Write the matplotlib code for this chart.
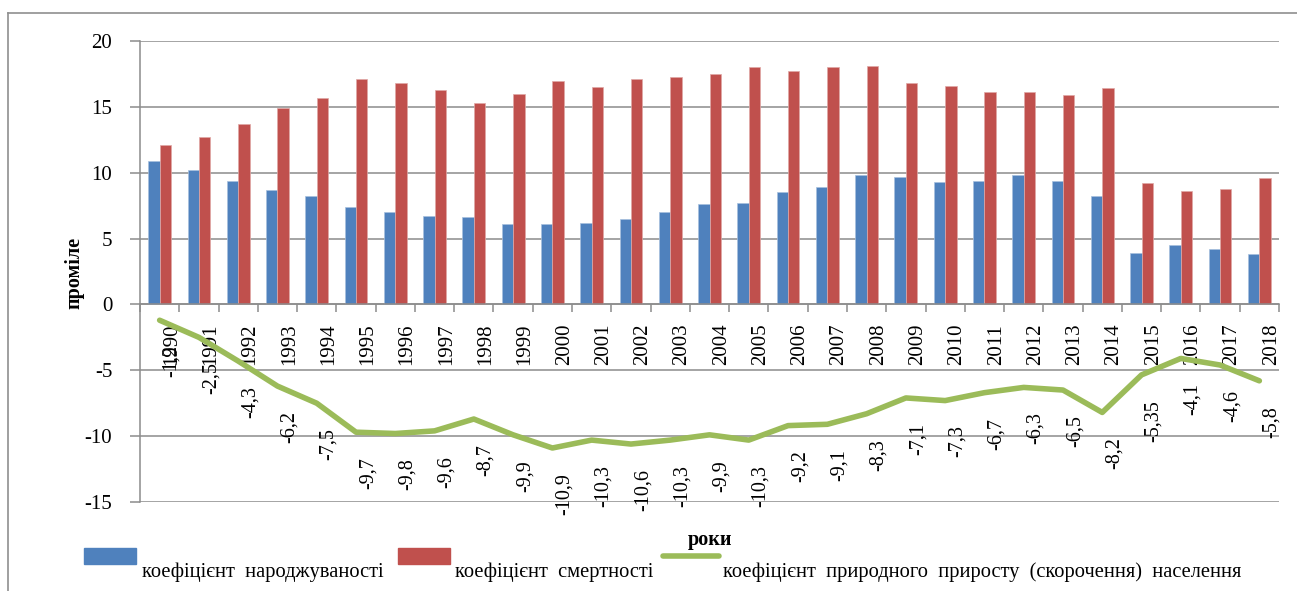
import numpy as np
import matplotlib
matplotlib.use('Agg')
import matplotlib.pyplot as plt
from matplotlib.patches import Rectangle
from matplotlib.lines import Line2D

plt.rcParams['font.family'] = ['Liberation Serif', 'DejaVu Serif']
plt.rcParams['axes.unicode_minus'] = False

# data (проміле)
years = [str(y) for y in range(1990, 2019)]
births = [10.9, 10.2, 9.4, 8.7, 8.2, 7.4, 7.0, 6.7, 6.6, 6.1, 6.1, 6.2, 6.5, 7.0, 7.6,
          7.7, 8.5, 8.9, 9.8, 9.7, 9.3, 9.4, 9.8, 9.4, 8.2, 3.9, 4.5, 4.2, 3.8]
deaths = [12.1, 12.7, 13.7, 14.9, 15.7, 17.1, 16.8, 16.3, 15.3, 16.0, 17.0, 16.5, 17.1, 17.3, 17.5,
          18.0, 17.7, 18.0, 18.1, 16.8, 16.6, 16.1, 16.1, 15.9, 16.4, 9.2, 8.6, 8.8, 9.6]
growth = [-1.2, -2.5, -4.3, -6.2, -7.5, -9.7, -9.8, -9.6, -8.7, -9.9, -10.9, -10.3, -10.6, -10.3, -9.9,
          -10.3, -9.2, -9.1, -8.3, -7.1, -7.3, -6.7, -6.3, -6.5, -8.2, -5.35, -4.1, -4.6, -5.8]

W, H = 1297, 591
fig = plt.figure(figsize=(W / 100, H / 100), dpi=100)
ax = fig.add_axes([140 / W, 1 - 502 / H, (1279 - 140) / W, (502 - 41) / H])

blue, red, green = '#4F81BD', '#C0504D', '#9BBB59'
grid_c = '#8C8C8C'

x = np.arange(len(years))
bw = 0.29
ax.bar(x - bw / 2, births, bw, color=blue, edgecolor='#A7C0DE', linewidth=0.5, zorder=2)
ax.bar(x + bw / 2, deaths, bw, color=red, edgecolor='#E0A8A6', linewidth=0.5, zorder=2)
ax.plot(x, growth, color=green, lw=4, solid_capstyle='round', solid_joinstyle='round', zorder=3)

for xi, v in zip(x, growth):
    ax.annotate(('%g' % v).replace('.', ','), (xi, v), xytext=(8.6, -18),
                textcoords='offset points', rotation=90, ha='center', va='top',
                fontsize=14.5, zorder=4)

ax.set_xlim(-0.5, len(years) - 0.5)
ax.set_ylim(-15, 20)
ax.set_yticks(range(-15, 21, 5))
ax.yaxis.grid(True, color=grid_c, lw=1.1)
ax.set_axisbelow(True)

ax.spines['top'].set_visible(False)
ax.spines['right'].set_visible(False)
ax.spines['left'].set_color(grid_c)
ax.spines['left'].set_linewidth(1.1)
ax.spines['bottom'].set_position(('data', 0))
ax.spines['bottom'].set_color(grid_c)
ax.spines['bottom'].set_linewidth(1.1)

ax.set_xticks(x + 0.3, years, rotation=90, fontsize=15)
ax.set_xticks(np.arange(-0.5, len(years)), minor=True)
ax.tick_params(axis='x', which='major', length=0, pad=14)
ax.tick_params(axis='x', which='minor', length=6, width=1.1, color=grid_c, direction='out')
ax.tick_params(axis='y', length=7, width=1.1, color=grid_c, pad=13, labelsize=15)
for lbl in ax.get_xticklabels():
    lbl.set_va('top')

fig.text(710 / W, 1 - 540 / H, 'роки', fontsize=14.5, fontweight='bold', ha='center', va='center')
fig.text(74 / W, 1 - 273 / H, 'проміле', fontsize=14.5, fontweight='bold', rotation=90,
         ha='center', va='center')

# legend drawn by hand
def px(xp, yp):
    return xp / W, 1 - yp / H

fig.add_artist(Rectangle(px(84, 564), 52 / W, 16 / H, transform=fig.transFigure, color=blue))
fig.add_artist(Rectangle(px(398, 564), 52 / W, 16 / H, transform=fig.transFigure, color=red))
fig.add_artist(Line2D([663 / W, 719 / W], [1 - 556 / H] * 2, transform=fig.transFigure,
                      color=green, lw=4, solid_capstyle='round'))
fig.text(*px(142, 577), 'коефіцієнт  народжуваності', fontsize=14.8, va='baseline')
fig.text(*px(455, 577), 'коефіцієнт  смертності', fontsize=14.8, va='baseline')
fig.text(*px(723, 577), 'коефіцієнт  природного  приросту  (скорочення)  населення',
         fontsize=14.8, va='baseline')

# outer frame
fig.add_artist(Line2D([8 / W, 1], [1 - 13 / H] * 2, transform=fig.transFigure, color='#8F8F8F', lw=1.2))
fig.add_artist(Line2D([8 / W] * 2, [0, 1 - 13 / H], transform=fig.transFigure, color='#8F8F8F', lw=1.2))

fig.savefig('out.png', dpi=100)
